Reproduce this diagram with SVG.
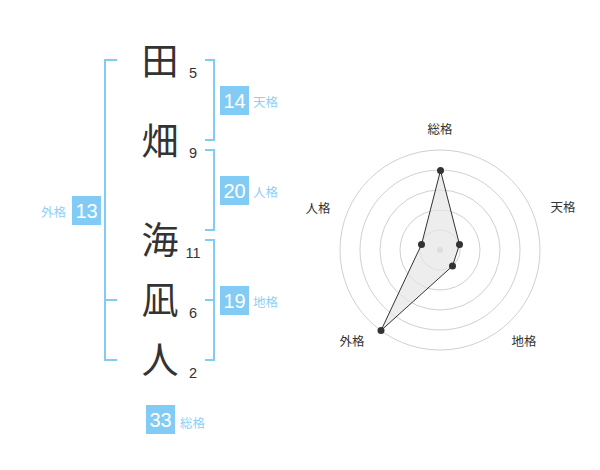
<svg xmlns="http://www.w3.org/2000/svg" width="600" height="470" viewBox="0 0 600 470">
<style>
.kanji{font-family:"Noto Sans CJK JP","Noto Sans CJK SC",sans-serif;font-size:37px;fill:#333;text-anchor:middle}
.num{font-family:"Liberation Sans",Arial,sans-serif;font-size:14.5px;fill:#333;text-anchor:middle}
.br{fill:none;stroke:#82cbf5;stroke-width:2}
.box{fill:#82cbf5}
.bt{font-family:"Liberation Sans",Arial,sans-serif;font-size:20px;fill:#fff;text-anchor:middle}
.lb{font-family:"Noto Sans CJK JP","Noto Sans CJK SC",sans-serif;font-size:12.5px;fill:#8ecff5}
.ring{fill:none;stroke:#d0d0d0;stroke-width:1}
.rl{font-family:"Noto Sans CJK JP","Noto Sans CJK SC",sans-serif;font-size:12.5px;fill:#333;text-anchor:middle}
.pt{fill:#333}
</style>
<rect width="600" height="470" fill="#fff"/>
<g id="names">
<text class="kanji" x="160" y="75">田</text>
<text class="kanji" x="160" y="155">畑</text>
<text class="kanji" x="160" y="254">海</text>
<text class="kanji" x="160" y="314">凪</text>
<text class="kanji" x="160" y="374">人</text>
<text class="num" x="193" y="78">5</text>
<text class="num" x="193" y="158">9</text>
<text class="num" x="193" y="258">11</text>
<text class="num" x="193" y="318">6</text>
<text class="num" x="193" y="378">2</text>
</g>
<g id="connectors">
<path class="br" d="M117,60 H105 V360 H117 M105,300 H117"/>
<path class="br" d="M205,60 H214 V140 H205"/>
<path class="br" d="M205,150 H214 V230 H205"/>
<path class="br" d="M205,240 H214 V360 H205 M205,300 H214"/>
</g>
<g id="tenkaku">
<rect class="box" x="220" y="86" width="29" height="29"/>
<text class="bt" x="234.5" y="108">14</text>
<text class="lb" x="253" y="107">天格</text>
</g>
<g id="jinkaku">
<rect class="box" x="220" y="176" width="29" height="29"/>
<text class="bt" x="234.5" y="198">20</text>
<text class="lb" x="253" y="197">人格</text>
</g>
<g id="chikaku">
<rect class="box" x="220" y="286" width="29" height="29"/>
<text class="bt" x="234.5" y="308">19</text>
<text class="lb" x="253" y="307">地格</text>
</g>
<g id="gaikaku">
<rect class="box" x="72" y="196" width="29" height="29"/>
<text class="bt" x="86.5" y="218">13</text>
<text class="lb" x="41" y="217">外格</text>
</g>
<g id="soukaku">
<rect class="box" x="146" y="405" width="29" height="29"/>
<text class="bt" x="160.5" y="427">33</text>
<text class="lb" x="180" y="428">総格</text>
</g>
<g id="radar">
<circle class="ring" cx="440" cy="250" r="100"/>
<circle class="ring" cx="440" cy="250" r="80"/>
<circle class="ring" cx="440" cy="250" r="60"/>
<circle class="ring" cx="440" cy="250" r="40"/>
<circle class="ring" cx="440" cy="250" r="20"/>
<circle cx="440" cy="250" r="3" fill="#ccc"/>
<polygon points="440.5,170.5 459.5,244.5 452.5,266 381,330.5 421.5,244.5" fill="#e6e6e6" fill-opacity="0.7" stroke="#333" stroke-width="1"/>
<circle class="pt" cx="440.5" cy="170.5" r="3.5"/>
<circle class="pt" cx="459.5" cy="244.5" r="3.5"/>
<circle class="pt" cx="452.5" cy="266" r="3.5"/>
<circle class="pt" cx="381" cy="330.5" r="3.5"/>
<circle class="pt" cx="421.5" cy="244.5" r="3.5"/>
<text class="rl" x="440" y="134">総格</text>
<text class="rl" x="563" y="212">天格</text>
<text class="rl" x="524" y="346">地格</text>
<text class="rl" x="352" y="346">外格</text>
<text class="rl" x="318" y="213">人格</text>
</g>
</svg>
